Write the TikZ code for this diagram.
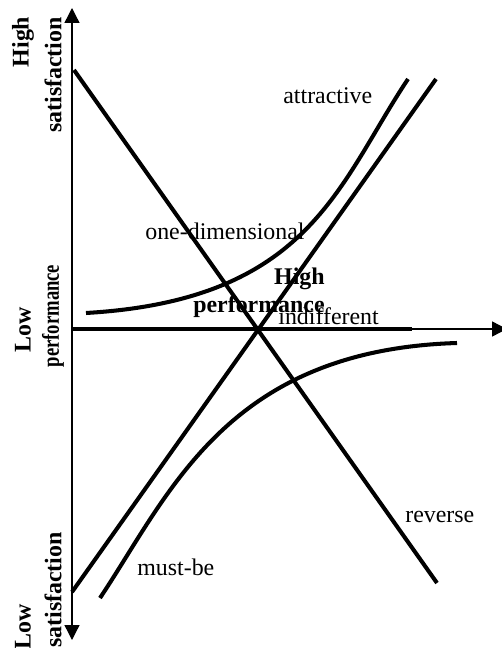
\documentclass[tikz,border=0pt]{standalone}
\usepackage{graphicx}
\usepackage{fontspec}
\setmainfont{Liberation Serif}
\usetikzlibrary{arrows.meta}

\begin{document}
\begin{tikzpicture}[x=0.02cm, y=-0.02cm,
    axis/.style={line width=0.75pt},
    curve/.style={line width=2.3pt},
    tip/.style={-{Triangle[length=8.5pt, width=8.5pt]}},
    word/.style={font=\fontsize{13.6}{15}\selectfont, inner sep=0pt},
    side/.style={font=\fontsize{13.6}{15}\selectfont\bfseries, rotate=90, inner sep=0pt}]

  \useasboundingbox (0,0) rectangle (502,648);

  % ---------------- axes ----------------
  \draw[axis, {Triangle[length=8.5pt, width=8.5pt]}-{Triangle[length=8.5pt, width=8.5pt]}] (72,640) -- (72,8);
  \draw[axis, tip] (72,329) -- (507,329);
  \draw[curve] (72,329) -- (412,329);

  % ---------------- the four lines ----------------
  % reverse
  \draw[curve] (74,70) -- (437,583);
  % one-dimensional
  \draw[curve] (72,592) -- (436,79);
  % attractive
  \draw[curve] (86,313) .. controls (310,300) and (338,184) .. (408,79);
  % must-be
  \draw[curve] (100,598) .. controls (170,493) and (227,350) .. (457,343);

  % ---------------- labels ----------------
  \node[word, anchor=base west] (attr) at (283,104) {attractive};
  \node[word, anchor=base west] (onedim) at (145,239) {one-dimensional};
  \node[word, anchor=base west] (indiff) at (278,324) {indifferent};
  \node[word, anchor=base west] (rev) at (405,522) {reverse};
  \node[word, anchor=base west] (must) at (137,575) {must-be};
  \node[word, font=\fontsize{13.6}{15}\selectfont\bfseries, anchor=base east] (hihigh) at (325,284) {High};
  \node[word, font=\fontsize{13.6}{15}\selectfont\bfseries, anchor=base east] (hiperf) at (325,312) {performance};

  % side labels
  \node[side] (topa) at (23,42) {High};
  \node[side] (topb) at (53,75) {satisfaction};
  \node[side] (mida) at (23,330) {Low};
  \node[side] (midb) at (53,316) {\scalebox{0.78}[1]{performance}};
  \node[side] (bota) at (23,627) {Low};
  \node[side] (botb) at (53,590) {satisfaction};

\end{tikzpicture}
\end{document}
